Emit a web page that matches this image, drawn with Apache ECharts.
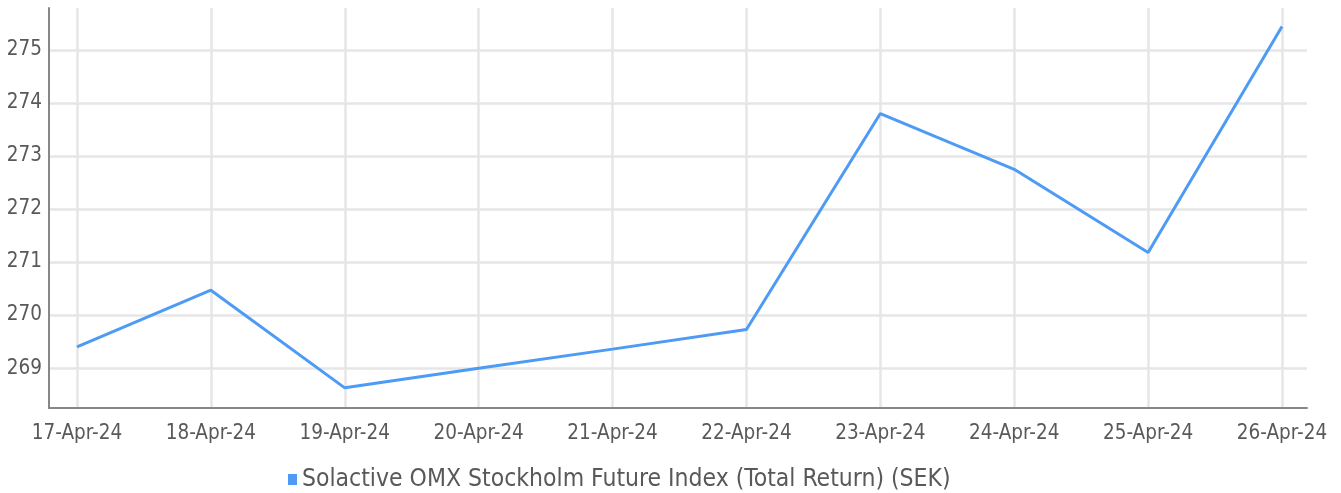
<!DOCTYPE html>
<html>
<head>
<meta charset="utf-8">
<script src="https://cdn.jsdelivr.net/npm/echarts@6/dist/echarts.min.js"></script>
<style>
  html, body { margin: 0; padding: 0; background: #fff; }
  #chart { width: 1341px; height: 493px; }
</style>
</head>
<body>
<div id="chart"></div>
<script>
// 数据
const dates = ['17-Apr-24', '18-Apr-24', '19-Apr-24', '20-Apr-24', '21-Apr-24',
  '22-Apr-24', '23-Apr-24', '24-Apr-24', '25-Apr-24', '26-Apr-24'];
const indexValues = [269.40, 270.47, 268.63, 269.00, 269.36, 269.73, 273.80, 272.75, 271.18, 275.44];
const seriesName = 'Solactive OMX Stockholm Future Index (Total Return) (SEK)';
const yMin = 268.25;
const yMax = 275.79;

const font = "'Liberation Sans Narrow', 'DejaVu Sans Condensed', sans-serif";
const textColor = '#595959';
const gridColor = '#e6e6e6';
const axisColor = '#878787';

const myChart = echarts.init(document.getElementById('chart'));
const option = {
  animation: false,
  textStyle: { fontFamily: font },
  legend: {
    data: [seriesName],
    left: 283,
    top: 462,
    icon: 'rect',
    itemWidth: 9,
    itemHeight: 11,
    textStyle: { color: textColor, fontSize: 24.5, fontFamily: font }
  },
  grid: [
    // 外框：坐标轴线 + 横向网格线
    { left: 49, right: 34, top: 8, bottom: 85 },
    // 数据区：类目点 + 纵向网格线
    { left: 77, right: 59, top: 8, bottom: 85 }
  ],
  xAxis: [
    {
      gridIndex: 0,
      type: 'value',
      min: 0,
      max: 1,
      axisLine: { show: true, lineStyle: { color: axisColor, width: 2 } },
      axisTick: { show: false },
      axisLabel: { show: false },
      splitLine: { show: false }
    },
    {
      gridIndex: 1,
      type: 'category',
      data: dates,
      boundaryGap: false,
      axisLine: { show: false },
      axisTick: { show: false },
      axisLabel: { color: textColor, fontSize: 20.5, fontFamily: font, margin: 15, interval: 0 },
      splitLine: { show: true, lineStyle: { color: gridColor, width: 2.5 } }
    }
  ],
  yAxis: [
    {
      gridIndex: 0,
      type: 'value',
      min: yMin,
      max: yMax,
      splitNumber: 7,
      axisLine: { show: true, lineStyle: { color: axisColor, width: 2 } },
      axisTick: { show: false },
      axisLabel: {
        color: textColor, fontSize: 20.5, fontFamily: font, margin: 7,
        showMinLabel: false, showMaxLabel: false,
        formatter: (v) => (Number.isInteger(v) ? String(v) : '')
      },
      splitLine: { show: true, showMinLine: false, showMaxLine: false, lineStyle: { color: gridColor, width: 2.5 } }
    },
    {
      gridIndex: 1,
      type: 'value',
      min: yMin,
      max: yMax,
      show: false
    }
  ],
  series: [
    {
      name: seriesName,
      type: 'line',
      xAxisIndex: 1,
      yAxisIndex: 1,
      data: indexValues,
      showSymbol: false,
      symbol: 'none',
      color: '#4d9bf5',
      lineStyle: { width: 3, color: '#4d9bf5' },
      z: 5
    }
  ]
};
myChart.setOption(option);
</script>
</body>
</html>
